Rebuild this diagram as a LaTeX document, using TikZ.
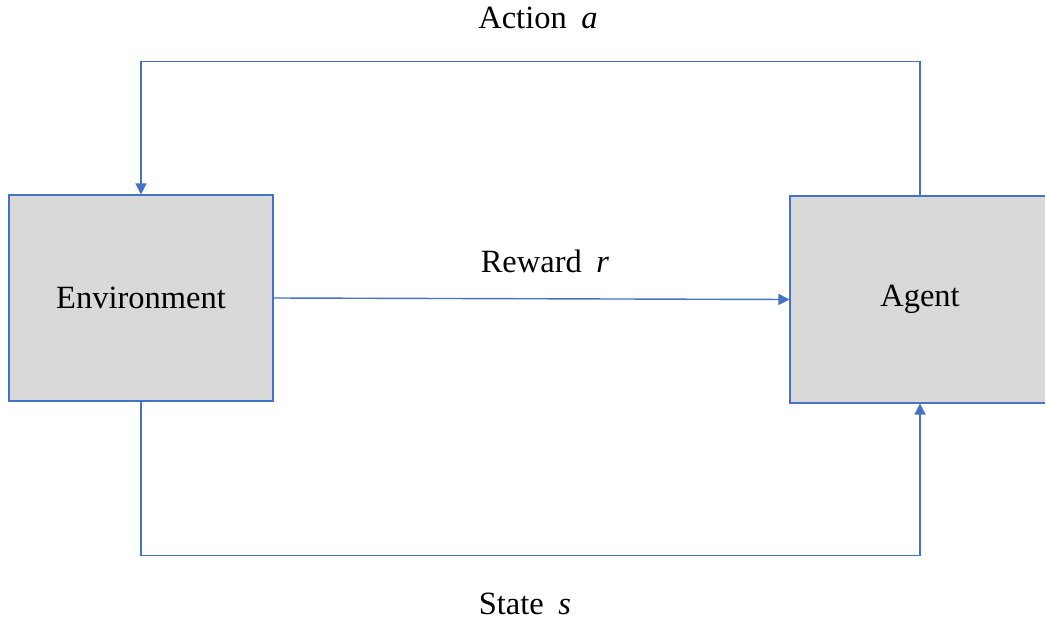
\documentclass[tikz,border=0pt]{standalone}
\usepackage{fontspec}
\setmainfont{Liberation Serif}
\usetikzlibrary{arrows.meta}
\definecolor{linkblue}{RGB}{68,114,196}
\definecolor{boxgray}{RGB}{217,217,217}
\tikzset{
  block/.style={draw=linkblue, fill=boxgray, line width=1.1bp, inner sep=0pt,
    font=\fontsize{32.6}{39}\selectfont},
  flow/.style={draw=linkblue, line width=1.4bp,
    -{Triangle[length=11bp, width=11bp]}},
  tag/.style={font=\fontsize{32.6}{39}\selectfont, inner sep=0pt},
}
\begin{document}
\begin{tikzpicture}[x=1bp, y=-1bp]
  \clip (0,0) rectangle (1045,623);
  \fill[white] (0,0) rectangle (1045,623);

  % the two blocks
  \node[block, minimum width=264bp, minimum height=206bp] (env) at (141,298) {Environment};
  \node[block, minimum width=260bp, minimum height=207bp] (ag) at (920,299.5) {Agent};

  % action loop over the top
  \draw[flow] (ag.north) -- ++(0,-134) -| (env.north);
  % reward straight across
  \draw[flow] (env.east) -- (ag.west);
  % state loop under the bottom
  \draw[flow] (env.south) -- ++(0,154) -| (ag.south);

  % labels
  \node[tag] (lact) at (538,18) {Action\hspace{0.45em}\textit{a}};
  \node[tag] (lrew) at (545,261) {Reward\hspace{0.45em}\textit{r}};
  \node[tag] (lsta) at (525,604) {State\hspace{0.45em}\textit{s}};
\end{tikzpicture}
\end{document}
